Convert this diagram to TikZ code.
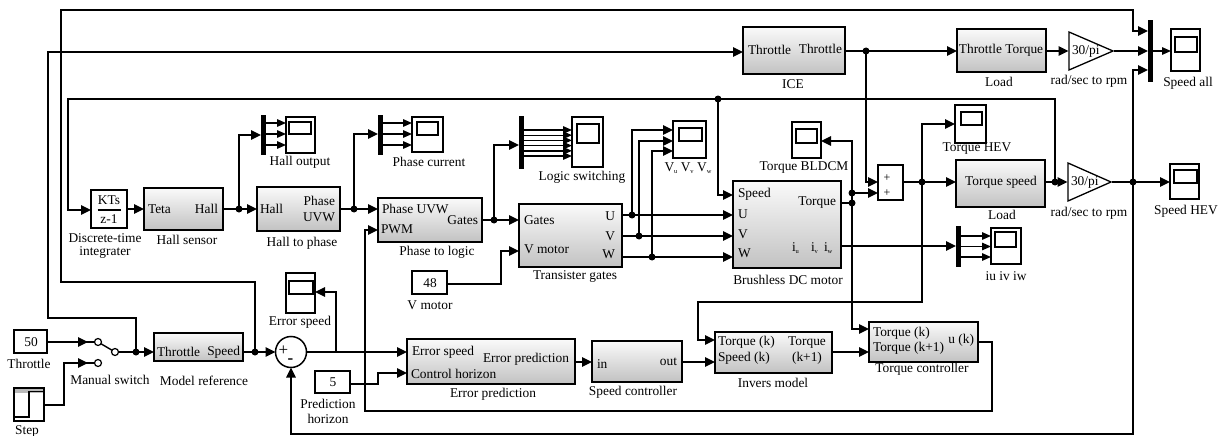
\documentclass[tikz,border=0pt]{standalone}
\usepackage{fontspec}
\setmainfont{Liberation Serif}
\usetikzlibrary{arrows.meta,calc}
\newcommand{\blk}[6][]{\node[blockbox,#1,minimum width={(#5-#3)*1pt},minimum height={(#6-#4)*1pt}] (#2) at ({(#3+#5)/2},{(#4+#6)/2}) {};}
\newcommand{\plain}[6][]{\node[plainbox,#1,minimum width={(#5-#3)*1pt},minimum height={(#6-#4)*1pt}] (#2) at ({(#3+#5)/2},{(#4+#6)/2}) {};}
\newcommand{\bus}[5]{\node[busbar,minimum width={(#4-#2)*1pt},minimum height={(#5-#3)*1pt}] (#1) at ({(#2+#4)/2},{(#3+#5)/2}) {};}
\newcommand{\scp}[9]{\node[plainbox,minimum width={(#4-#2)*1pt},minimum height={(#5-#3)*1pt}] (#1) at ({(#2+#4)/2},{(#3+#5)/2}) {};
  \node[plainbox,minimum width={(#8-#6)*1pt},minimum height={(#9-#7)*1pt}] (#1-i) at ({(#6+#8)/2},{(#7+#9)/2}) {};}
\newcommand{\lab}[4]{\node[labtext] (#1) at (#2,#3) {#4};}
\newcommand{\tl}[4]{\node[labtext,anchor=west] (#1) at (#2,#3) {#4};}
\newcommand{\tr}[4]{\node[labtext,anchor=east] (#1) at (#2,#3) {#4};}
\newcommand{\jn}[3]{\node[dotmark] (#1) at (#2,#3) {};}
\newcommand{\sbs}[1]{\raisebox{-0.25ex}{\fontsize{6.5}{7}\selectfont #1}}
\tikzset{
  blockbox/.style={draw=black,line width=1.5pt,top color=gray!4,bottom color=gray!48,inner sep=0,outer sep=0},
  plainbox/.style={draw=black,line width=1.5pt,fill=white,inner sep=0,outer sep=0},
  busbar/.style={fill=black,draw=none,inner sep=0,outer sep=0},
  labtext/.style={inner sep=0,outer sep=0,font=\fontsize{13.4}{15}\selectfont},
  dotmark/.style={circle,fill=black,draw=none,minimum size=7pt,inner sep=0,outer sep=0},
  swdot/.style={circle,fill=white,draw=black,line width=1.2pt,minimum size=7pt,inner sep=0,outer sep=0},
  conn/.style={line width=1.4pt},
  arr/.style={conn,-{Triangle[length=10pt,width=9.5pt]}},
  arrs/.style={conn,-{Triangle[length=9pt,width=7.5pt]}},
  gainbox/.style={draw=black,line width=1.3pt,fill=white,line join=miter}
}
\begin{document}
\begin{tikzpicture}[x=1pt,y=-1pt]
\useasboundingbox[fill=white] (0,0) rectangle (1221,436);
% blocks
\plain{integ}{91}{190}{127}{228}
\blk{hallsens}{144}{188}{223}{230}
\blk{hallph}{257}{187}{340}{231}
\blk{phlogic}{378}{198}{482}{242}
\blk{trans}{519}{204}{622}{267}
\blk{bldc}{733}{181}{841}{268}
\blk{ice}{743}{27}{845}{74}
\blk{load}{957}{29}{1046}{72}
\blk{loadb}{956}{160}{1045}{207}
\blk{modref}{154}{333}{243}{361}
\blk{errpred}{407}{339}{575}{384}
\blk{speedc}{592}{341}{682}{382}
\blk{invers}{715}{332}{832}{373}
\blk{torqc}{869}{322}{978}{362}
\plain{sumb}{878}{165}{903}{200}
\plain{c50}{14}{330}{47}{353}
\plain{c5}{315}{371}{350}{393}
\plain{c48}{412}{271}{447}{294}
\plain{stepb}{14}{388}{44}{421}
\fill[gray!55] (15,389) rectangle (43,393);
\draw[line width=1.3pt] (14.5,417) -- (29,417) -- (29,391.5) -- (43.5,391.5);
% gains
\node[inner sep=0,outer sep=0] (gaint) at (1069,51) {};
\draw[gainbox] (1069,32) -- (1113,51) -- (1069,70) -- cycle;
\node[inner sep=0,outer sep=0] (gaintip) at (1113,51) {};
\node[inner sep=0,outer sep=0] (gainb) at (1068,182) {};
\draw[gainbox] (1068,163) -- (1111,182) -- (1068,201) -- cycle;
\node[inner sep=0,outer sep=0] (gainbtip) at (1111,182) {};
% sum
\node[plainbox,circle,minimum size=31pt] (sum) at (291,352) {};
\node[labtext,font=\fontsize{17}{17}\selectfont] (sump) at (283.5,351) {+};
\node[labtext,font=\bfseries\fontsize{17}{17}\selectfont] (summ) at (290.5,361) {-};
% scopes
\scp{shall}{286}{117}{315}{153}{289}{122}{311}{134}
\scp{sphase}{412}{117}{443}{152}{417}{122}{438}{135}
\scp{slogic}{572}{117}{603}{167}{577}{124}{599}{143}
\scp{sv}{673}{121}{706}{158}{679}{128}{702}{141}
\scp{stb}{792}{122}{821}{158}{796}{129}{817}{143}
\scp{sthev}{955}{105}{986}{143}{961}{112}{982}{125}
\scp{sall}{1171}{29}{1200}{71}{1175}{37}{1197}{52}
\scp{shev}{1170}{164}{1199}{199}{1174}{170}{1197}{183}
\scp{si}{991}{228}{1021}{264}{995}{232}{1016}{247}
\scp{serr}{286}{273}{315}{313}{289}{281}{313}{294}
% buses
\bus{bhall}{261}{115}{266}{155}
\bus{bphase}{378}{115}{383}{155}
\bus{blogic}{519}{116}{524}{169}
\bus{bi}{956}{226}{961}{267}
\bus{ball}{1148}{20}{1153}{82}
% switch
\node[swdot] (swa) at (98,342) {};
\node[swdot] (swb) at (98,363) {};
\node[swdot] (swo) at (115,352) {};
% junctions
\jn{jms}{136}{352}\jn{jmr}{255}{352}
\jn{jh}{239}{209}\jn{jp}{354}{209}\jn{jg}{494}{220}
\jn{ju}{632}{215}\jn{jv}{639}{236}\jn{jw}{652}{257}
\jn{jt}{718}{99}\jn{jth}{866}{51}\jn{jsum}{922}{182}
\jn{jtq}{852}{203}\jn{jtq2}{852}{193}
\jn{jl}{1055}{182}\jn{jsp}{1133}{182}
% connectors
\draw[arr] (jmr.center) -- (255,282) -- (61,282) -- (61,10) -- (1133,10) -- (1133,31) -- (ball.west |- 0,31);
\draw[arr] (jms.center) -- (136,318) -- (48,318) -- (48,52) -- (ice.west |- 0,52);
\draw[arr] (jl.center) -- (1055,99) -- (68,99) -- (68,210) -- (integ.west |- 0,210);
\draw[arr] (jt.center) -- (718,195) -- (bldc.west |- 0,195);
\draw[arr] (integ.east |- 0,209) -- (hallsens.west |- 0,209);
\draw[conn] (hallsens.east |- 0,209) -- (jh.center);
\draw[arr] (jh.center) -- (hallph.west |- 0,209);
\draw[arr] (jh.center) -- (239,135) -- (bhall.west |- 0,135);
\draw[conn] (hallph.east |- 0,209) -- (jp.center);
\draw[arr] (jp.center) -- (phlogic.west |- 0,209);
\draw[arr] (jp.center) -- (354,134) -- (bphase.west |- 0,134);
\foreach \yy in {123,134,145}{
  \draw[arrs] (bhall.east |- 0,\yy) -- (shall.west |- 0,\yy);
  \draw[arrs] (bphase.east |- 0,\yy) -- (sphase.west |- 0,\yy);
}
\foreach \yy in {130,135.2,140.4,145.6,150.8,156}{
  \draw[arrs] (blogic.east |- 0,\yy) -- (slogic.west |- 0,\yy);
}
\foreach \yy in {236,246.5,257}{
  \draw[arrs] (bi.east |- 0,\yy) -- (si.west |- 0,\yy);
}
\draw[conn] (phlogic.east |- 0,220) -- (jg.center);
\draw[arr] (jg.center) -- (trans.west |- 0,220);
\draw[arr] (jg.center) -- (494,145) -- (blogic.west |- 0,145);
\draw[arr] (c48.east |- 0,284) -- (501,284) -- (501,251) -- (trans.west |- 0,251);
\draw[conn] (trans.east |- 0,215) -- (ju.center);
\draw[conn] (trans.east |- 0,236) -- (jv.center);
\draw[conn] (trans.east |- 0,257) -- (jw.center);
\draw[arr] (ju.center) -- (bldc.west |- 0,215);
\draw[arr] (jv.center) -- (bldc.west |- 0,236);
\draw[arr] (jw.center) -- (bldc.west |- 0,257);
\draw[arr] (ju.center) -- (632,130) -- (sv.west |- 0,130);
\draw[arr] (jv.center) -- (639,141) -- (sv.west |- 0,141);
\draw[arr] (jw.center) -- (652,151) -- (sv.west |- 0,151);
\draw[conn] (ice.east |- 0,51) -- (jth.center);
\draw[arr] (jth.center) -- (load.west |- 0,51);
\draw[arr] (jth.center) -- (866,182) -- (sumb.west |- 0,182);
\draw[arr] (load.east |- 0,51) -- (gaint);
\draw[arr] (gaintip) -- (ball.west |- 0,51);
\draw[arrs] (ball.east |- 0,51) -- (sall.west |- 0,51);
\draw[conn] (bldc.east |- 0,203) -- (jtq.center);
\draw[arr] (jtq.center) -- (852,141) -- (stb.east |- 0,141);
\draw[arr] (jtq2.center) -- (sumb.west |- 0,193);
\draw[arr] (jtq.center) -- (852,329) -- (torqc.west |- 0,329);
\draw[conn] (sumb.east |- 0,182) -- (jsum.center);
\draw[arr] (jsum.center) -- (loadb.west |- 0,182);
\draw[arr] (jsum.center) -- (922,124) -- (sthev.west |- 0,124);
\draw[arr] (jsum.center) -- (922,302) -- (698,302) -- (698,340) -- (invers.west |- 0,340);
\draw[conn] (loadb.east |- 0,182) -- (jl.center);
\draw[arr] (jl.center) -- (gainb);
\draw[conn] (gainbtip) -- (jsp.center);
\draw[arr] (jsp.center) -- (shev.west |- 0,182);
\draw[arr] (jsp.center) -- (1133,70) -- (ball.west |- 0,70);
\draw[arr] (jsp.center) -- (1133,434) -- (sum.south |- 0,434) -- (sum.south);
\draw[arr] (bldc.east |- 0,246) -- (bi.west |- 0,246);
\draw[arr] (invers.east |- 0,352) -- (torqc.west |- 0,352);
\draw[arr] (torqc.east |- 0,342) -- (992,342) -- (992,411) -- (365,411) -- (365,230) -- (phlogic.west |- 0,230);
\draw[arr] (errpred.east |- 0,362) -- (speedc.west |- 0,362);
\draw[arr] (speedc.east |- 0,362) -- (invers.west |- 0,362);
\draw[arr] (sum.east) -- (errpred.west |- 0,352);
\draw[arr] (336,352) -- (336,292) -- (serr.east |- 0,292);
\draw[arr] (c5.east |- 0,384) -- (378,384) -- (378,373) -- (errpred.west |- 0,373);
\draw[arr] (jmr.center) -- (sum.west);
\draw[conn] (modref.east |- 0,352) -- (jmr.center);
\draw[arr] (jms.center) -- (modref.west |- 0,352);
\draw[conn] (swo) -- (jms.center);
\draw[conn] (swa) -- (swo);
\draw[conn] (c50.east |- 0,342) -- (swa);
\draw[arr] (c50.east |- 0,342) -- (88,342);
\draw[conn] (stepb.east |- 0,405) -- (64,405) -- (64,363) -- (swb);
\draw[arr] (64,363) -- (88,363);
% integrator content
\lab{tkts}{109}{200}{KTs}
\draw[line width=1.5pt] (97.5,210) -- (120.5,210);
\lab{tz}{109}{219}{z-1}
% inner labels
\tl{tteta}{148}{209}{Teta}\tr{thall}{218}{209}{Hall}
\tl{thall2}{260}{209}{Hall}\tr{tph}{335}{201}{Phase}\tr{tuvw}{335}{217}{UVW}
\tl{tphu}{382}{209}{Phase UVW}\tr{tgat}{478}{220}{Gates}\tl{tpwm}{381}{229}{PWM}
\tl{tgat2}{524}{220}{Gates}\tl{tvm}{524}{249}{V motor}\tr{tu}{615}{216}{U}\tr{tv}{615}{236}{V}\tr{tw}{615}{254}{W}
\tl{tsp}{738}{194}{Speed}\tl{tu2}{738}{214}{U}\tl{tv2}{738}{234}{V}\tl{tw2}{738}{253}{W}\tr{ttq}{836}{203}{Torque}
\tl{tiu}{792}{248}{i\sbs{u}}\tl{tiv}{811}{248}{i\sbs{v}}\tl{tiw}{824}{248}{i\sbs{w}}
\tl{tthi}{748}{50}{Throttle}\tr{ttho}{842}{49}{Throttle}
\lab{ttt}{1001}{50}{Throttle Torque}
\lab{ttsp}{1001}{182}{Torque speed}
\tl{tg1}{1072}{51}{30/pi}\tl{tg2}{1071}{182}{30/pi}
\tl{tmr1}{157}{352}{Throttle}\tr{tmr2}{240}{352}{Speed}
\tl{tes}{412}{352}{Error speed}\tr{tep}{569}{359}{Error prediction}\tl{tch}{411}{374}{Control horizon}
\tl{tin}{597}{364}{in}\tr{tout}{677}{362}{out}
\tl{tq1}{718}{342}{Torque (k)}\tl{tq2}{718}{358}{Speed (k)}\lab{tq3}{807}{343}{Torque}\lab{tq4}{807}{358}{(k+1)}
\tl{tc1}{873}{333}{Torque (k)}\tl{tc2}{873}{348}{Torque (k+1)}\tr{tc3}{974}{340}{u (k)}
\lab{t50}{31}{342}{50}\lab{t5}{333}{382}{5}\lab{t48}{430}{283}{48}
\node[labtext,font=\fontsize{12}{12}\selectfont] (sp1) at (887,178) {+};
\node[labtext,font=\fontsize{12}{12}\selectfont] (sp2) at (887,193) {+};
% captions
\lab{l1}{105}{238}{Discrete-time}\lab{l2}{105}{253}{integrater}
\lab{l3}{187}{240}{Hall sensor}\lab{l4}{302}{243}{Hall to phase}
\lab{l5}{300}{162}{Hall output}\lab{l6}{429}{162}{Phase current}
\lab{l7}{437}{252}{Phase to logic}\lab{l8}{582}{177}{Logic switching}
\node[labtext] (l9) at (688,168) {V\sbs{u} V\sbs{v} V\sbs{w}};
\lab{l10}{804}{167}{Torque BLDCM}\lab{l11}{575}{277}{Transister gates}
\lab{l12}{788}{280}{Brushless DC motor}\lab{l13}{430}{305}{V motor}
\lab{l14}{493}{394}{Error prediction}\lab{l15}{633}{392}{Speed controller}
\lab{l16}{773}{383}{Invers model}\lab{l17}{922}{369}{Torque controller}
\lab{l18}{1006}{276}{iu iv iw}\lab{l19}{300}{322}{Error speed}
\lab{l20}{328}{404}{Prediction}\lab{l21}{328}{419}{horizon}
\lab{l22}{29}{364}{Throttle}\lab{l23}{27}{431}{Step}
\lab{l24}{110}{380}{Manual switch}\lab{l25}{204}{381}{Model reference}
\lab{l26}{793}{84}{ICE}\lab{l27}{999}{82}{Load}\lab{l28}{1089}{81}{rad/sec to rpm}
\lab{l29}{1188}{83}{Speed all}\lab{l30}{977}{149}{Torque HEV}
\lab{l31}{1002}{215}{Load}\lab{l32}{1089}{213}{rad/sec to rpm}\lab{l33}{1186}{211}{Speed HEV}
\end{tikzpicture}
\end{document}
